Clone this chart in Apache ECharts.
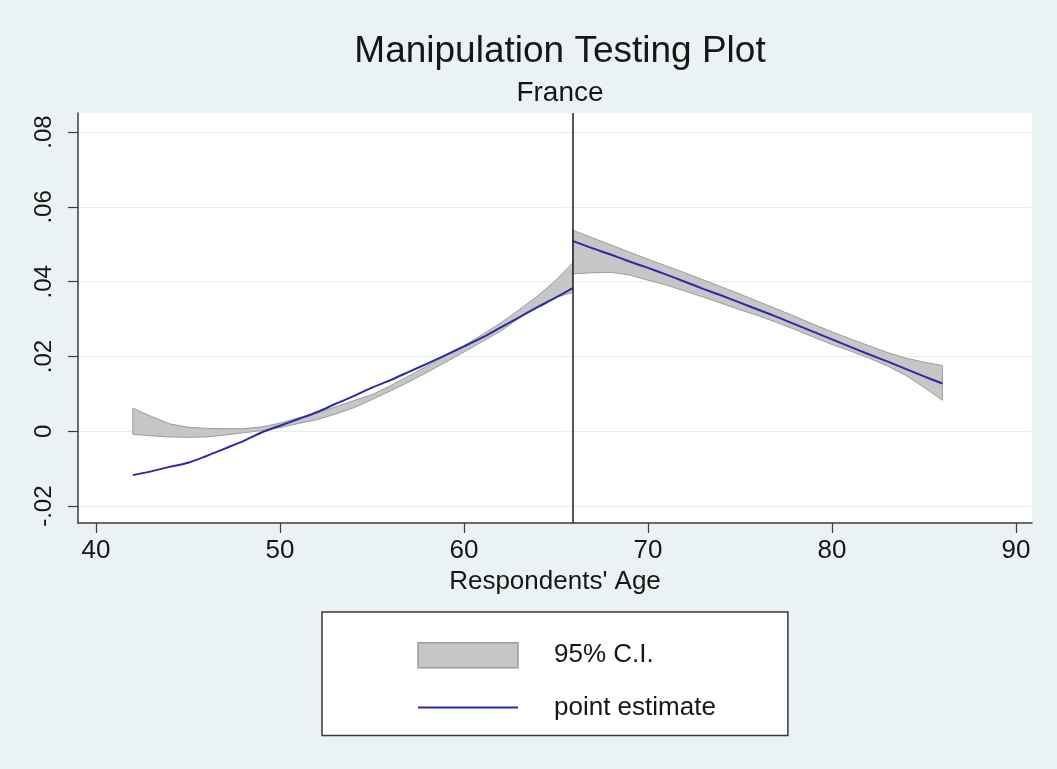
<!DOCTYPE html>
<html>
<head>
<meta charset="utf-8">
<title>Manipulation Testing Plot</title>
<script src="https://cdn.jsdelivr.net/npm/echarts@6/dist/echarts.min.js"></script>
<style>
  html, body { margin: 0; padding: 0; background: #eaf2f3; }
  #chart { width: 1057px; height: 769px; }
</style>
</head>
<body>
<div id="chart"></div>
<script>
// Density estimate below the cutoff
const leftAge   = [42, 43, 44, 45, 46, 47, 48, 49, 50, 51, 52, 53, 54, 55, 56, 57, 58, 59, 60, 61, 62, 63, 64, 65, 65.9];
const leftEst   = [-0.0117, -0.0107, -0.0095, -0.0084, -0.0066, -0.0046, -0.0026, -0.0003, 0.0015, 0.0033, 0.0051, 0.0073, 0.0094, 0.0117, 0.0137, 0.0159, 0.0181, 0.0204, 0.0227, 0.0251, 0.0278, 0.0305, 0.0332, 0.0358, 0.0383];
const leftLower = [-0.0008, -0.0012, -0.0015, -0.0016, -0.0015, -0.0010, -0.0004, 0.0002, 0.0010, 0.0021, 0.0031, 0.0046, 0.0063, 0.0085, 0.0108, 0.0132, 0.0158, 0.0185, 0.0212, 0.0240, 0.0268, 0.0303, 0.0335, 0.0358, 0.0371];
const leftUpper = [0.0062, 0.0040, 0.0020, 0.0011, 0.0008, 0.0007, 0.0007, 0.0012, 0.0022, 0.0036, 0.0049, 0.0065, 0.0082, 0.0098, 0.0122, 0.0148, 0.0175, 0.0202, 0.0229, 0.0259, 0.0290, 0.0325, 0.0362, 0.0404, 0.0450];

// Density estimate above the cutoff
const rightAge   = [65.9, 67, 68, 69, 70, 71, 72, 73, 74, 75, 76, 77, 78, 79, 80, 81, 82, 83, 84, 85, 86];
const rightEst   = [0.0509, 0.0489, 0.0472, 0.0454, 0.0437, 0.0419, 0.0400, 0.0381, 0.0363, 0.0344, 0.0325, 0.0306, 0.0286, 0.0266, 0.0246, 0.0226, 0.0206, 0.0187, 0.0167, 0.0147, 0.0128];
const rightLower = [0.0421, 0.0424, 0.0425, 0.0418, 0.0404, 0.0391, 0.0375, 0.0359, 0.0342, 0.0325, 0.0309, 0.0291, 0.0272, 0.0252, 0.0232, 0.0215, 0.0196, 0.0175, 0.0150, 0.0118, 0.0083];
const rightUpper = [0.0538, 0.0517, 0.0498, 0.0479, 0.0460, 0.0442, 0.0424, 0.0405, 0.0386, 0.0367, 0.0347, 0.0327, 0.0307, 0.0286, 0.0266, 0.0247, 0.0229, 0.0211, 0.0196, 0.0185, 0.0176];

const cutoff = 65.9;

// Axis ticks
const xTickValues = [40, 50, 60, 70, 80, 90];
const yTickValues = [-0.02, 0, 0.02, 0.04, 0.06, 0.08];
const yTickLabels = ['-.02', '0', '.02', '.04', '.06', '.08'];

const FONT = "'Liberation Sans', Arial, Helvetica, sans-serif";
const TEXT = '#161616';
const AXIS = '#3c3c3c';
const CI_FILL = '#c6c6c6';
const CI_EDGE = '#9c9c9c';
const EST = '#2a2aa6';

function bandData(age, lo, hi) {
  return age.map((a, i) => [a, lo[i], hi[i]]);
}

// Draws the whole confidence band as one polygon: upper edge forward, lower edge back.
function renderBand(params, api) {
  if (params.dataIndexInside !== 0) return null;
  const n = params.dataInsideLength;
  const pts = [];
  for (let j = 0; j < n; j++) pts.push(api.coord([api.value(0, j), api.value(2, j)]));
  for (let j = n - 1; j >= 0; j--) pts.push(api.coord([api.value(0, j), api.value(1, j)]));
  return {
    type: 'polygon',
    shape: { points: pts },
    style: { fill: CI_FILL, stroke: CI_EDGE, lineWidth: 1 }
  };
}

function lineData(age, est) {
  return age.map((a, i) => [a, est[i]]);
}

const chart = echarts.init(document.getElementById('chart'), null, { renderer: 'canvas' });

chart.setOption({
  backgroundColor: '#eaf2f3',
  animation: false,
  title: [
    {
      text: 'Manipulation Testing Plot',
      left: 555, top: 28, textAlign: 'center',
      textStyle: { fontFamily: FONT, fontSize: 37, fontWeight: 'normal', color: TEXT, lineHeight: 37 }
    },
    {
      text: 'France',
      left: 555, top: 74, textAlign: 'center',
      textStyle: { fontFamily: FONT, fontSize: 28, fontWeight: 'normal', color: TEXT, lineHeight: 28 }
    }
  ],
  grid: {
    left: 78, right: 25, top: 113, bottom: 246,
    show: true, backgroundColor: '#ffffff', borderWidth: 0
  },
  xAxis: {
    type: 'value',
    min: 39.02, max: 90.87,
    name: "Respondents' Age",
    nameLocation: 'middle',
    nameGap: 57,
    nameTextStyle: { fontFamily: FONT, fontSize: 26, color: TEXT, verticalAlign: 'middle' },
    axisLine: { show: true, onZero: false, lineStyle: { color: AXIS, width: 1.5 } },
    axisTick: { show: true, length: 10, inside: false, customValues: xTickValues, lineStyle: { color: AXIS, width: 1.2 } },
    axisLabel: { customValues: xTickValues, margin: 15, fontFamily: FONT, fontSize: 26, color: TEXT },
    splitLine: { show: false }
  },
  yAxis: {
    type: 'value',
    min: -0.0245, max: 0.0851,
    axisLine: { show: true, onZero: false, lineStyle: { color: AXIS, width: 1.5 } },
    axisTick: { show: true, length: 10, inside: false, customValues: yTickValues, lineStyle: { color: AXIS, width: 1.2 } },
    axisLabel: {
      customValues: yTickValues,
      rotate: 90,
      margin: 22,
      align: 'center',
      verticalAlign: 'bottom',
      fontFamily: FONT, fontSize: 24, color: TEXT,
      formatter: function (v) {
        for (let i = 0; i < yTickValues.length; i++) {
          if (Math.abs(yTickValues[i] - v) < 1e-9) return yTickLabels[i];
        }
        return '';
      }
    },
    splitLine: { show: true, lineStyle: { color: '#e6eef0', width: 1.2 } }
  },
  legend: {
    left: 322, top: 612,
    orient: 'vertical',
    selectedMode: false,
    backgroundColor: '#ffffff',
    borderColor: '#3a3a3a',
    borderWidth: 1.5,
    borderRadius: 0,
    padding: [30, 72, 15, 95],
    itemWidth: 100,
    itemHeight: 25,
    itemGap: 26,
    textStyle: { fontFamily: FONT, fontSize: 26, color: TEXT, padding: [0, 0, 0, 31], lineHeight: 25 },
    data: [
      { name: '95% C.I.', icon: 'rect', itemStyle: { color: CI_FILL, borderColor: CI_EDGE, borderWidth: 1.5 } },
      { name: 'point estimate', itemStyle: { opacity: 0 }, lineStyle: { color: EST, width: 2 } }
    ]
  },
  series: [
    {
      name: '95% C.I.',
      type: 'custom',
      renderItem: renderBand,
      encode: { x: 0, y: [1, 2] },
      data: bandData(leftAge, leftLower, leftUpper),
      silent: true,
      z: 2
    },
    {
      name: '95% C.I.',
      type: 'custom',
      renderItem: renderBand,
      encode: { x: 0, y: [1, 2] },
      data: bandData(rightAge, rightLower, rightUpper),
      silent: true,
      z: 2
    },
    {
      name: 'point estimate',
      type: 'line',
      data: lineData(leftAge, leftEst),
      symbol: 'none',
      smooth: 0.3,
      lineStyle: { color: EST, width: 2 },
      itemStyle: { color: EST },
      silent: true,
      z: 3,
      markLine: {
        silent: true,
        symbol: 'none',
        label: { show: false },
        lineStyle: { color: '#1e1e1e', width: 1.5, type: 'solid' },
        data: [{ xAxis: cutoff }]
      }
    },
    {
      name: 'point estimate',
      type: 'line',
      data: lineData(rightAge, rightEst),
      symbol: 'none',
      smooth: 0.3,
      lineStyle: { color: EST, width: 2 },
      itemStyle: { color: EST },
      silent: true,
      z: 3
    }
  ]
});
</script>
</body>
</html>
